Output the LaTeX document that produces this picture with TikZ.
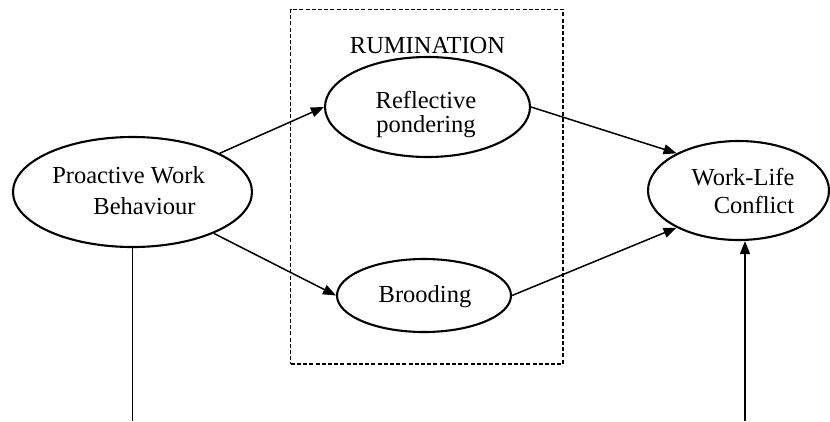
\documentclass[tikz,border=0pt]{standalone}
\usepackage{fontspec}
\setmainfont{Liberation Serif}
\usetikzlibrary{shapes.geometric,arrows.meta,calc}
\begin{document}
\begin{tikzpicture}[x=1pt,y=-1pt,
  ellip/.style={draw, ellipse, line width=2.1pt, inner sep=0pt},
  txt/.style={inner sep=0pt, anchor=base, font=\fontsize{24.5}{30}\selectfont},
  arr/.style={line width=1.5pt, -{Triangle[length=13pt,width=10pt]}},
  plain/.style={line width=1.5pt},
  dashbox/.style={draw, line width=1.3pt, dash pattern=on 4pt off 2.2pt, inner sep=0pt}]
\useasboundingbox[fill=white] (0,0) rectangle (830,421);
% box
\node[dashbox, minimum width=272.3pt, minimum height=354.7pt] (box) at (426.85,186.65) {};
% ellipses
\node[ellip, minimum width=239pt, minimum height=110pt] (pwb) at (132.5,192) {};
\node[ellip, minimum width=205pt, minimum height=100pt] (refl) at (427.5,107) {};
\node[ellip, minimum width=174pt, minimum height=73pt] (brood) at (424,295.5) {};
\node[ellip, minimum width=181pt, minimum height=99pt] (wlc) at (738.5,190.5) {};
% texts
\node[txt] (t1) at (128.5,183) {Proactive Work};
\node[txt] (t2) at (144.5,214) {Behaviour};
\node[txt] (t3) at (427.5,53) {RUMINATION};
\node[txt] (t4) at (426,108) {Reflective};
\node[txt] (t5) at (426,132) {pondering};
\node[txt] (t6) at (425,302.5) {Brooding};
\node[txt] (t7) at (743,185) {Work-Life};
\node[txt] (t8) at (754,213) {Conflict};
% connectors
\draw[arr] (pwb) -- (refl.west);
\draw[arr] (pwb) -- (brood.west);
\draw[arr] (refl.east) -- (wlc.149);
\draw[arr] (brood.east) -- (wlc.211);
\coordinate (pb) at (132.5,421);
\coordinate (wb) at (745,421);
\draw[plain] (pwb.south) -- (pb);
\draw[arr] (wb) -- (wb |- wlc.south);
\end{tikzpicture}
\end{document}
